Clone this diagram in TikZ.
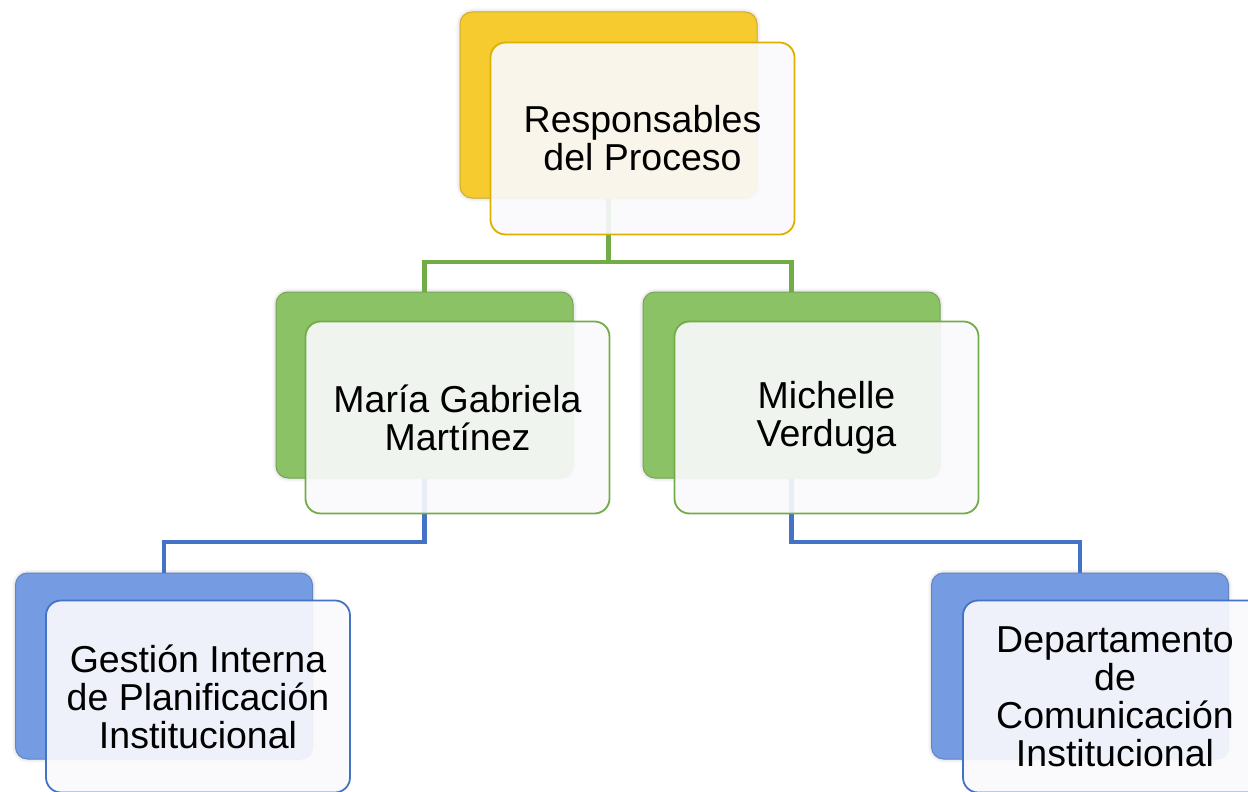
\documentclass[tikz,border=0pt]{standalone}
\usepackage{fontspec}
\setmainfont{Liberation Sans}
\usetikzlibrary{shadows.blur}
\definecolor{goldback}{HTML}{F6CB30}
\definecolor{goldline}{HTML}{DDB000}
\definecolor{greenback}{HTML}{8CC266}
\definecolor{greenline}{HTML}{72AC47}
\definecolor{blueback}{HTML}{759CE3}
\definecolor{blueline}{HTML}{4472C4}
\definecolor{frontfill}{HTML}{FAFAFD}
\tikzset{
  backbox/.style={draw=#1!85!black, line width=1pt, fill=#1, rounded corners=12pt,
    minimum width=297pt, minimum height=186pt, inner sep=0pt,
    blur shadow={shadow xshift=0pt, shadow yshift=0pt, shadow blur radius=4pt, shadow opacity=25}},
  frontbox/.style={draw=#1, line width=1.8pt, fill=frontfill, fill opacity=0.91, text opacity=1,
    rounded corners=15pt, minimum width=304pt, minimum height=192pt, inner sep=0pt,
    align=center, font=\fontsize{37.5}{38}\selectfont},
  linkline/.style={draw=#1, line width=4.5pt}
}
\begin{document}
\begin{tikzpicture}[x=1pt,y=-1pt]
\useasboundingbox (0,0) rectangle (1248,792);
\clip (0,0) rectangle (1248,792);
\node [backbox=goldback] (respback) at (608.5,105) {};
\node [backbox=greenback] (mariaback) at (424.5,385) {};
\node [backbox=greenback] (michelleback) at (791.5,385) {};
\node [backbox=blueback] (gestionback) at (164,666) {};
\node [backbox=blueback] (deptback) at (1080,666) {};
\coordinate (railtop) at (608.5,262);
\coordinate (railleft) at (424.5,542);
\coordinate (railright) at (791.5,542);
\draw [linkline=greenline] (respback.south) -- (respback.south |- railtop) -| (mariaback.north);
\draw [linkline=greenline] (respback.south |- railtop) -| (michelleback.north);
\draw [linkline=blueline] (mariaback.south) -- (railleft) -| (gestionback.north);
\draw [linkline=blueline] (michelleback.south) -- (railright) -| (deptback.north);
\node [frontbox=goldline] (resp) at (642.5,138.5) {Responsables\\del Proceso};
\node [frontbox=greenline] (maria) at (457.5,417.5) {María Gabriela\\Martínez};
\node [frontbox=greenline] (michelle) at (826.5,417.5) {Michelle\\Verduga};
\node [frontbox=blueline] (gestion) at (198,696.5) {Gestión Interna\\de Planificación\\Institucional};
\node [frontbox=blueline] (dept) at (1115,696.5) {Departamento\\de\\Comunicación\\Institucional};
\end{tikzpicture}
\end{document}
